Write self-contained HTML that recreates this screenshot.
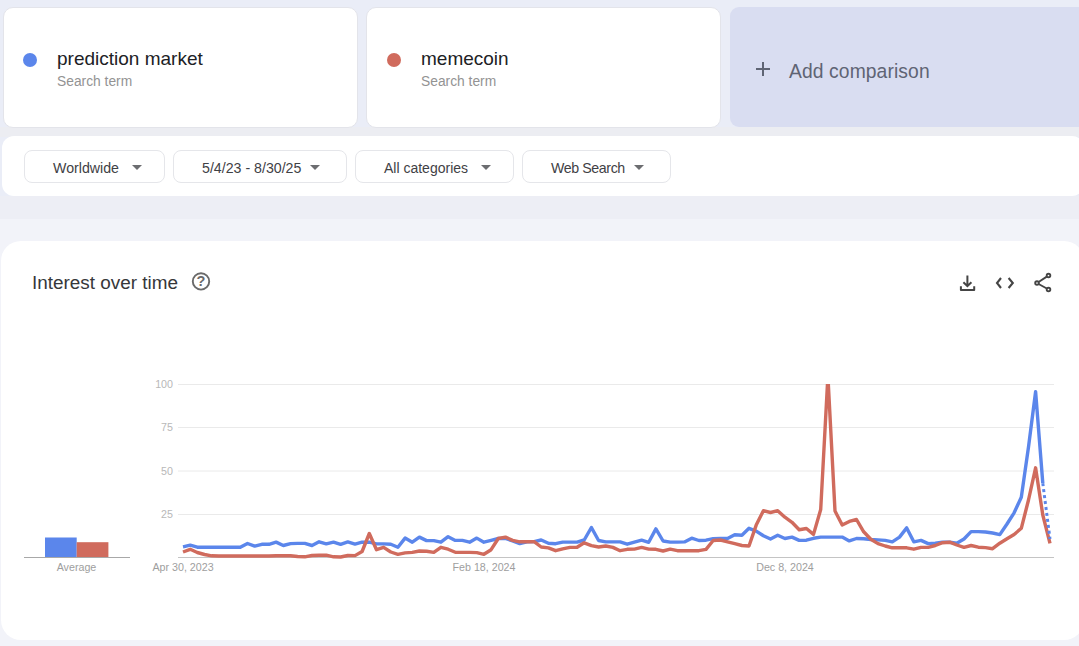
<!DOCTYPE html>
<html><head><meta charset="utf-8">
<style>
*{margin:0;padding:0;box-sizing:border-box}
html,body{width:1079px;height:646px;overflow:hidden}
body{background:#eaedf7;font-family:"Liberation Sans",Arial,sans-serif;position:relative;color:#202124}
.abs{position:absolute}
.card{position:absolute;background:#fff;border-radius:10px;border:1px solid #e3e4ea}
.term{position:absolute;font-size:19px;color:#202124;white-space:nowrap;line-height:1}
.sub{position:absolute;font-size:13.8px;color:#939393;white-space:nowrap;line-height:1}
.dot{position:absolute;width:14px;height:14px;border-radius:50%}
.btn{position:absolute;top:150px;height:33px;border:1px solid #e5e6ea;border-radius:8px;background:#fff}
.btn span{position:absolute;font-size:14.2px;color:#3f4145;white-space:nowrap;line-height:1;top:10px}
.tri{position:absolute;width:0;height:0;border-left:5px solid transparent;border-right:5px solid transparent;border-top:5px solid #6c6d70;top:14px}
.ax{position:absolute;font-size:10.7px;color:#9a9a9a;white-space:nowrap;line-height:1}
</style></head><body>
<!-- background bands -->
<div class="abs" style="left:0;top:127px;width:1079px;height:10px;background:#ecedf2"></div>
<div class="abs" style="left:0;top:196px;width:1079px;height:23px;background:#edeef5"></div>
<div class="abs" style="left:0;top:219px;width:1079px;height:427px;background:#f2f3f9"></div>

<!-- term cards -->
<div class="card" style="left:3px;top:7px;width:355px;height:121px"></div>
<div class="dot" style="left:23px;top:53px;background:#5b86eb"></div>
<div class="term" style="left:57px;top:48.7px">prediction market</div>
<div class="sub" style="left:57px;top:74.5px">Search term</div>

<div class="card" style="left:366px;top:7px;width:355px;height:121px"></div>
<div class="dot" style="left:387px;top:53px;background:#d06b5d"></div>
<div class="term" style="left:421px;top:49px">memecoin</div>
<div class="sub" style="left:421px;top:74.5px">Search term</div>

<div class="abs" style="left:730px;top:7px;width:360px;height:120px;background:#d9ddf1;border-radius:9px"></div>
<div class="abs" style="left:756px;top:68px;width:14px;height:1.6px;background:#5f6474"></div>
<div class="abs" style="left:762.2px;top:62px;width:1.6px;height:14px;background:#5f6474"></div>
<div class="term" style="left:789px;top:61.5px;color:#5f6474;font-size:19.3px;letter-spacing:0.1px">Add comparison</div>

<!-- filter bar -->
<div class="abs" style="left:2px;top:136px;width:1082px;height:59.5px;background:#fff;border-radius:12px"></div>
<div class="btn" style="left:24px;width:141px"><span style="left:28px">Worldwide</span><div class="tri" style="left:107px"></div></div>
<div class="btn" style="left:173px;width:174px"><span style="left:28px">5/4/23 - 8/30/25</span><div class="tri" style="left:136px"></div></div>
<div class="btn" style="left:355px;width:159px"><span style="left:28px;font-size:14px">All categories</span><div class="tri" style="left:125px"></div></div>
<div class="btn" style="left:522px;width:149px"><span style="left:28px;font-size:14.2px;letter-spacing:-0.4px">Web Search</span><div class="tri" style="left:111px"></div></div>

<!-- chart card -->
<div class="abs" style="left:1px;top:241px;width:1082.5px;height:399.4px;background:#fff;border-radius:20px"></div>
<div class="term" style="left:32px;top:274px;font-size:18.9px;color:#36373a">Interest over time</div>
<svg class="abs" style="left:0;top:0" width="1079" height="646" viewBox="0 0 1079 646">
  <!-- help icon -->
  <circle cx="201" cy="281.4" r="8.2" fill="none" stroke="#6a6a6a" stroke-width="1.9"/>
  <text x="201" y="286.4" font-family="Liberation Sans" font-size="14.5" font-weight="bold" fill="#6a6a6a" text-anchor="middle">?</text>
  <!-- download -->
  <g fill="none" stroke="#454545" stroke-width="2">
    <path d="M967.4 275.5 V286 M963.4 282.2 L967.4 286.2 L971.4 282.2"/>
    <path d="M960.9 286.3 V289.9 H974.2 V286.3" stroke-linejoin="round"/>
  </g>
  <!-- code -->
  <g fill="none" stroke="#454545" stroke-width="2.1">
    <path d="M1001 278 L997 283 L1001 288"/>
    <path d="M1008.6 278 L1012.8 283 L1008.6 288"/>
  </g>
  <!-- share -->
  <g fill="none" stroke="#454545" stroke-width="1.9">
    <circle cx="1048.5" cy="275.5" r="1.8"/>
    <circle cx="1037" cy="283" r="1.8"/>
    <circle cx="1048.5" cy="289.5" r="1.8"/>
    <path d="M1038.6 282 L1046.8 276.6 M1038.6 284 L1046.8 288.5"/>
  </g>
  <!-- gridlines -->
  <g stroke="#eaeaea" stroke-width="1">
    <line x1="178" y1="384.5" x2="1054" y2="384.5"/>
    <line x1="178" y1="427.5" x2="1054" y2="427.5"/>
    <line x1="178" y1="471" x2="1054" y2="471"/>
    <line x1="178" y1="514.5" x2="1054" y2="514.5"/>
  </g>
  <line x1="178" y1="557.5" x2="1054" y2="557.5" stroke="#c4c4c4" stroke-width="1.2"/>
  <line x1="24" y1="557.5" x2="130" y2="557.5" stroke="#a8a8a8" stroke-width="1"/>
  <rect x="45" y="537.5" width="31.7" height="19.5" fill="#5b86eb"/>
  <rect x="76.7" y="542.2" width="31.7" height="14.8" fill="#d06b5d"/>
  <g font-family="Liberation Sans" font-size="10.7" fill="#b8b8b8" text-anchor="end">
    <text x="173" y="388">100</text>
    <text x="173" y="431">75</text>
    <text x="173" y="474.5">50</text>
    <text x="173" y="518">25</text>
  </g>
  <g font-family="Liberation Sans" font-size="10.7" fill="#9e9e9e" text-anchor="middle">
    <text x="76.5" y="571">Average</text>
    <text x="183" y="571">Apr 30, 2023</text>
    <text x="484" y="571">Feb 18, 2024</text>
    <text x="785" y="571">Dec 8, 2024</text>
  </g>
  <defs><clipPath id="cp"><rect x="170" y="384.1" width="900" height="200"/></clipPath></defs>
  <g clip-path="url(#cp)">
  <polyline points="183.0,546.8 190.2,545.2 197.3,547.2 204.5,547.3 211.7,547.3 218.8,547.3 226.0,547.3 233.2,547.3 240.3,547.3 247.5,543.5 254.7,546.1 261.8,544.3 269.0,544.3 276.1,542.1 283.3,545.5 290.5,543.6 297.6,543.4 304.8,543.4 312.0,545.5 319.1,541.8 326.3,543.9 333.5,542.1 340.6,544.3 347.8,541.9 355.0,544.1 362.1,542.1 369.3,542.2 376.5,543.9 383.6,543.9 390.8,544.3 397.9,547.3 405.1,538.1 412.3,542.2 419.4,537.1 426.6,540.6 433.8,540.6 440.9,542.2 448.1,536.7 455.3,540.4 462.4,540.4 469.6,542.2 476.8,538.1 483.9,542.2 491.1,540.4 498.3,538.5 505.4,538.5 512.6,540.9 519.8,543.6 526.9,541.8 534.1,541.6 541.2,540.0 548.4,543.3 555.6,543.7 562.7,542.1 569.9,542.1 577.1,542.1 584.2,540.0 591.4,527.5 598.6,540.5 605.7,541.9 612.9,541.9 620.1,541.9 627.2,544.2 634.4,542.1 641.6,540.2 648.7,542.3 655.9,528.9 663.1,541.0 670.2,542.1 677.4,542.1 684.5,541.9 691.7,538.2 698.9,540.5 706.0,540.2 713.2,538.6 720.4,538.5 727.5,538.5 734.7,534.8 741.9,535.3 749.0,528.3 756.2,531.1 763.4,535.7 770.5,539.0 777.7,535.3 784.9,538.5 792.0,537.1 799.2,540.4 806.4,540.2 813.5,538.3 820.7,537.1 827.9,537.1 835.0,537.1 842.2,537.1 849.3,540.9 856.5,538.5 863.7,538.8 870.8,539.5 878.0,539.9 885.2,540.4 892.3,541.8 899.5,537.1 906.7,527.9 913.8,541.8 921.0,540.4 928.2,543.6 935.3,543.2 942.5,542.2 949.7,542.2 956.8,543.2 964.0,539.0 971.1,531.6 978.3,531.6 985.5,532.0 992.6,533.0 999.8,534.6 1007.0,524.0 1014.1,512.8 1021.3,497.2 1028.5,447.0 1035.6,391.7 1042.8,483.2" fill="none" stroke="#5b86eb" stroke-width="3.4" stroke-linejoin="round" stroke-linecap="butt"/>
  <polyline points="183.0,552.0 190.2,549.3 197.3,552.5 204.5,554.5 211.7,555.8 218.8,556.0 226.0,556.0 233.2,556.0 240.3,556.0 247.5,556.0 254.7,556.0 261.8,556.0 269.0,556.0 276.1,555.7 283.3,555.7 290.5,555.7 297.6,556.5 304.8,556.8 312.0,555.5 319.1,555.2 326.3,555.2 333.5,556.8 340.6,557.0 347.8,555.5 355.0,555.6 362.1,551.5 369.3,533.5 376.5,549.7 383.6,547.3 390.8,552.0 397.9,554.3 405.1,552.9 412.3,552.4 419.4,551.0 426.6,551.2 433.8,552.4 440.9,547.3 448.1,549.2 455.3,552.2 462.4,552.4 469.6,552.4 476.8,552.6 483.9,554.3 491.1,549.7 498.3,538.5 505.4,537.1 512.6,540.4 519.8,541.8 526.9,541.8 534.1,541.6 541.2,547.0 548.4,547.9 555.6,550.7 562.7,548.8 569.9,547.4 577.1,547.3 584.2,542.8 591.4,545.6 598.6,547.0 605.7,546.0 612.9,547.4 620.1,550.7 627.2,549.3 634.4,549.1 641.6,547.4 648.7,549.1 655.9,549.3 663.1,551.0 670.2,549.1 677.4,550.7 684.5,550.7 691.7,550.7 698.9,550.7 706.0,549.3 713.2,540.5 720.4,540.0 727.5,541.8 734.7,543.6 741.9,545.5 749.0,546.0 756.2,525.1 763.4,510.7 770.5,512.5 777.7,510.7 784.9,517.2 792.0,522.3 799.2,529.7 806.4,528.5 813.5,534.4 820.7,509.5 827.9,376.0 835.0,511.0 842.2,525.0 849.3,521.4 856.5,519.5 863.7,531.8 870.8,539.2 878.0,543.6 885.2,546.0 892.3,547.8 899.5,547.8 906.7,547.8 913.8,549.2 921.0,547.4 928.2,547.4 935.3,545.5 942.5,542.7 949.7,542.2 956.8,545.0 964.0,547.4 971.1,545.5 978.3,547.2 985.5,547.6 992.6,548.7 999.8,543.2 1007.0,538.8 1014.1,534.5 1021.3,528.3 1028.5,500.0 1035.6,467.8 1042.8,515.0 1050.0,543.3" fill="none" stroke="#d06b5d" stroke-width="3.4" stroke-linejoin="round" stroke-linecap="butt"/>
  <polyline points="1042.8,483.2 1050.0,539.0" fill="none" stroke="#5b86eb" stroke-width="3" stroke-dasharray="3 3"/>
  </g>
</svg>
</body></html>
